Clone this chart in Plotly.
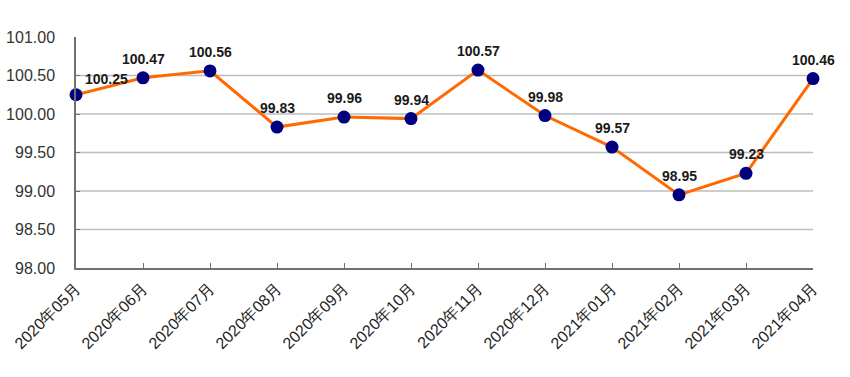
import plotly.graph_objects as go

months = ["2020年05月", "2020年06月", "2020年07月", "2020年08月", "2020年09月", "2020年10月",
          "2020年11月", "2020年12月", "2021年01月", "2021年02月", "2021年03月", "2021年04月"]
values = [100.25, 100.47, 100.56, 99.83, 99.96, 99.94, 100.57, 99.98, 99.57, 98.95, 99.23, 100.46]
y_ticks = [98.0, 98.5, 99.0, 99.5, 100.0, 100.5, 101.0]
grid_vals = [98.5, 99.0, 99.5, 100.0, 100.5]

fig = go.Figure()
fig.add_trace(go.Scatter(
    x=list(range(len(months))), y=values, mode="lines+markers",
    line=dict(color="#FF6A00", width=3),
    marker=dict(color="#00007F", size=13),
    cliponaxis=False, hoverinfo="skip",
))

for i, v in enumerate(values):
    xs, ys = (30, 16) if i == 0 else (0, 19)
    fig.add_annotation(x=i, y=v, text=f"{v:.2f}", showarrow=False,
                       xshift=xs, yshift=ys,
                       font=dict(family="Liberation Sans, Arial", size=14, color="#1a1a1a", weight="bold"))

for g in grid_vals:
    fig.add_shape(type="line", xref="paper", x0=0, x1=1, yref="y", y0=g, y1=g,
                  line=dict(color="#BDBDBD", width=1.5), layer="below")

fig.update_layout(
    width=850, height=377,
    margin=dict(l=76, r=37, t=37, b=109),
    paper_bgcolor="white", plot_bgcolor="white",
    showlegend=False,
    xaxis=dict(range=[0, 11], tickvals=list(range(len(months))), ticktext=months,
               tickangle=-45, showgrid=False, zeroline=False, automargin=False,
               showline=True, linecolor="#707070", linewidth=1.5,
               ticks="inside", ticklen=5, tickcolor="#707070", ticklabelstandoff=3,
               tickfont=dict(family="Liberation Sans, Arial", size=16, color="#222")),
    yaxis=dict(range=[98, 101], tickvals=y_ticks, ticktext=[f"{t:.2f}" for t in y_ticks],
               showgrid=False, zeroline=False, automargin=False,
               showline=True, linecolor="#707070", linewidth=1.5,
               ticks="inside", ticklen=4, tickcolor="#707070", ticklabelstandoff=16,
               tickfont=dict(family="Liberation Sans, Arial", size=16, color="#333")),
)

fig.write_html("out.html", config={"displayModeBar": False},
               post_script="document.body.style.margin='0';")
